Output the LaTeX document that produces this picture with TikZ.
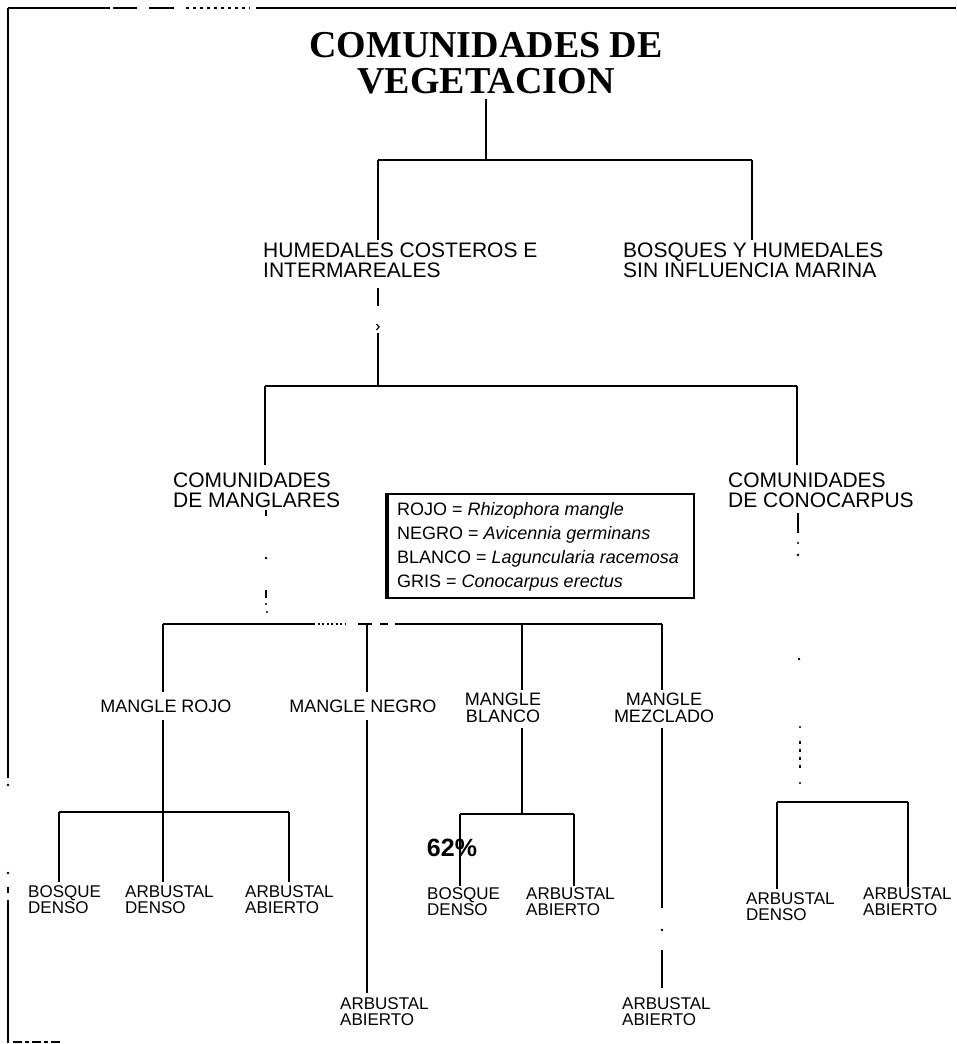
\documentclass[tikz,border=0pt]{standalone}
\usepackage{fontspec}
\setmainfont{Liberation Serif}
\setsansfont{Liberation Sans}
\begin{document}
\begin{tikzpicture}[x=1pt,y=-1pt,
  link/.style={line width=2pt, line cap=butt},
  frame/.style={line width=2.6pt, line cap=butt},
  speck/.style={fill=black, draw=none},
  titlef/.style={font=\fontsize{38}{36}\selectfont\bfseries, align=center, inner sep=0pt},
  lvl/.style={font=\sffamily\fontsize{21}{20}\selectfont, align=left, inner sep=0pt, anchor=north west},
  sub/.style={font=\sffamily\fontsize{18}{17}\selectfont, align=center, inner sep=0pt, anchor=north},
  leaf/.style={font=\sffamily\fontsize{17}{16}\selectfont, align=left, inner sep=0pt, anchor=north west},
  legtext/.style={font=\sffamily\fontsize{18}{24}\selectfont, align=left, inner sep=0pt, anchor=north west},
  pct/.style={font=\sffamily\bfseries\fontsize{25}{25}\selectfont, inner sep=0pt}]
\useasboundingbox (0,0) rectangle (956,1044);

% outer frame (broken in places)
\draw[frame] (8,8) -- (110,8);
\draw[frame] (113,8) -- (137,8);
\draw[frame] (149,8) -- (174,8);
\draw[line width=2pt, dash pattern=on 3pt off 4pt] (186,8) -- (250,8);
\draw[frame] (256,8) -- (956,8);
\draw[frame] (8,8) -- (8,778);
\fill[speck] (8,785) circle (1.3);
\fill[speck] (8,873) circle (1.3);
\draw[frame] (8,887) -- (8,893);
\draw[frame] (8,900) -- (8,1043);
\draw[line width=2pt, dash pattern=on 9pt off 3pt on 4pt off 3pt] (13,1042) -- (60,1042);

% labels
\node[titlef, anchor=north] (title) at (486,32) {COMUNIDADES DE\\VEGETACION};
\node[lvl] (hum) at (263,243) {HUMEDALES COSTEROS E\\INTERMAREALES};
\node[lvl] (bos) at (623,243) {BOSQUES Y HUMEDALES\\SIN INFLUENCIA MARINA};
\node[lvl] (man) at (173,473) {COMUNIDADES\\DE MANGLARES};
\node[lvl] (con) at (728,473) {COMUNIDADES\\DE CONOCARPUS};

\node[sub] (rojo) at (166,700) {MANGLE ROJO};
\node[sub] (negro) at (363,700) {MANGLE NEGRO};
\node[sub] (blanco) at (503,693) {MANGLE\\BLANCO};
\node[sub] (mezc) at (664,693) {MANGLE\\MEZCLADO};

\node[leaf] (r1) at (28,885) {BOSQUE\\DENSO};
\node[leaf] (r2) at (125,885) {ARBUSTAL\\DENSO};
\node[leaf] (r3) at (245,885) {ARBUSTAL\\ABIERTO};
\node[leaf] (n1) at (340,997) {ARBUSTAL\\ABIERTO};
\node[leaf] (b1) at (427,887) {BOSQUE\\DENSO};
\node[leaf] (b2) at (526,887) {ARBUSTAL\\ABIERTO};
\node[leaf] (m1) at (622,997) {ARBUSTAL\\ABIERTO};
\node[leaf] (c1) at (746,892) {ARBUSTAL\\DENSO};
\node[leaf] (c2) at (863,887) {ARBUSTAL\\ABIERTO};

% legend
\node[draw, line width=1.8pt, minimum width=306pt, minimum height=104pt,
      inner sep=0pt, anchor=north west] (legbox) at (387,493) {};
\draw[line width=3.6pt] (legbox.north west) -- (legbox.south west);
\node[legtext] (leg) at (397,502)
  {ROJO = \textit{Rhizophora mangle}\\
   NEGRO = \textit{Avicennia germinans}\\
   BLANCO = \textit{Laguncularia racemosa}\\
   GRIS = \textit{Conocarpus erectus}};

% junctions
\coordinate (j0) at (486,160);
\coordinate (j0l) at (378,160);
\coordinate (j0r) at (752,160);
\coordinate (j1) at (378,386);
\coordinate (j1l) at (265,386);
\coordinate (j1r) at (797,386);
\coordinate (j2a) at (163,624);
\coordinate (j2n) at (367,624);
\coordinate (j2b) at (522,624);
\coordinate (j2m) at (662,624);
\coordinate (j3r) at (163,812);
\coordinate (j3rl) at (59,812);
\coordinate (j3rr) at (289,812);
\coordinate (j3b) at (522,814);
\coordinate (j3bl) at (460,814);
\coordinate (j3br) at (574,814);
\coordinate (j3cl) at (777,802);
\coordinate (j3cr) at (908,802);

% first level
\draw[link] ([yshift=-5pt]j0 |- title.south) -- (j0);
\draw[link] (j0l) -- (j0r);
\draw[link] (j0l) -- ([yshift=3pt]j0l |- hum.north);
\draw[link] (j0r) -- ([yshift=3pt]j0r |- bos.north);

% from the coastal wetlands down
\draw[link] ([yshift=-10pt]j1 |- hum.south) -- ++(0,18);
\draw[line width=1.2pt] (376.5,324) -- (379,327) -- (376.5,330);
\draw[link] (j1) -- ++(0,-53);
\draw[link] (j1l) -- (j1r);
\draw[link] (j1l) -- ([yshift=8pt]j1l |- man.north);
\draw[link] (j1r) -- ([yshift=8pt]j1r |- con.north);

% broken link below the mangrove communities
\draw[link] (266,510) -- (266,516);
\fill[speck] (266,558) circle (1.3);
\draw[link] (266,590) -- (266,598);
\fill[speck] (266,604) circle (1.2);
\fill[speck] (267,612) circle (1.2);

% mangrove types
\draw[link] (j2a) -- (313,624);
\draw[line width=2pt, dash pattern=on 2pt off 2.5pt] (313,624) -- (345,624);
\draw[link] (358,624) -- (372,624);
\draw[link] (380,624) -- (388,624);
\draw[link] (395,624) -- (j2m);
\draw[link] (j2a) -- ([yshift=8pt]j2a |- rojo.north);
\draw[link] (j2n) -- ([yshift=8pt]j2n |- negro.north);
\draw[link] (j2b) -- ([yshift=3pt]j2b |- blanco.north);
\draw[link] (j2m) -- ([yshift=3pt]j2m |- mezc.north);

% red mangrove
\draw[link] ([yshift=-7pt]j3r |- rojo.south) -- (j3r);
\draw[link] (j3rl) -- (j3rr);
\draw[link] (j3rl) -- ([yshift=3pt]j3rl |- r1.north);
\draw[link] (j3r) -- ([yshift=3pt]j3r |- r2.north);
\draw[link] (j3rr) -- ([yshift=3pt]j3rr |- r3.north);

% black mangrove
\draw[link] ([yshift=-7pt]j2n |- negro.south) -- ([yshift=4pt]j2n |- n1.north);

% white mangrove
\draw[link] ([yshift=-5pt]j3b |- blanco.south) -- (j3b);
\draw[link] (j3bl) -- (j3br);
\draw[link] (j3bl) -- ([yshift=1pt]j3bl |- b1.north);
\draw[link] (j3br) -- ([yshift=1pt]j3br |- b2.north);
\node[pct] (p62) at (452,848) {62\%};

% mixed mangrove
\draw[link] ([yshift=-5pt]j2m |- mezc.south) -- (662,908);
\fill[speck] (662,930) circle (1.3);
\draw[link] (662,950) -- ([yshift=9pt]j2m |- m1.north);

% buttonwood column
\draw[link] ([yshift=-5pt]798,0 |- con.south) -- (798,533);
\fill[speck] (798,543) circle (1.2);
\fill[speck] (798,555) circle (1.3);
\fill[speck] (799,659) circle (1.4);
\fill[speck] (800,727) circle (1.2);
\draw[line width=2pt, dash pattern=on 3pt off 5pt] (800,741) -- (800,769);
\fill[speck] (800,783) circle (1.2);
\draw[link] (j3cl) -- (j3cr);
\draw[link] (j3cl) -- ([yshift=3pt]j3cl |- c1.north);
\draw[link] (j3cr) -- (j3cr |- c2.north);
\end{tikzpicture}
\end{document}
